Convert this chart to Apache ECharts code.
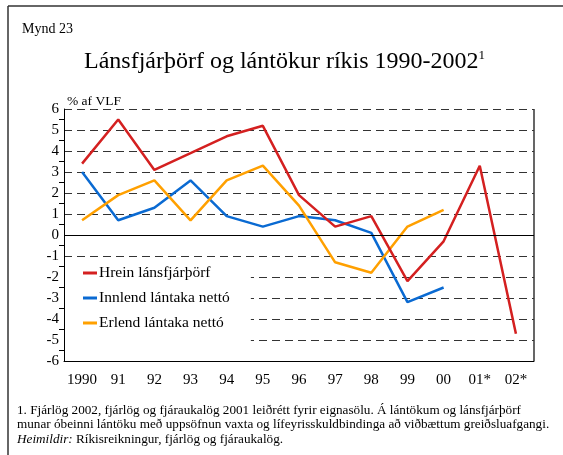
<!DOCTYPE html>
<html>
<head>
<meta charset="utf-8">
<script src="https://cdn.jsdelivr.net/npm/echarts@6/dist/echarts.min.js"></script>
<style>
  html, body { margin: 0; padding: 0; background: #fff; }
  #chart { width: 563px; height: 455px; }
</style>
</head>
<body>
<div id="chart"></div>
<script>
// gögn lesin af myndinni
var years = ['1990', '91', '92', '93', '94', '95', '96', '97', '98', '99', '00', '01*', '02*'];
var hrein = [3.4, 5.5, 3.1, 3.9, 4.7, 5.2, 1.9, 0.4, 0.9, -2.2, -0.3, 3.3, -4.7];
var innlend = [3.0, 0.7, 1.3, 2.6, 0.9, 0.4, 0.9, 0.7, 0.1, -3.2, -2.5, null, null];
var erlend = [0.7, 1.9, 2.6, 0.7, 2.6, 3.3, 1.4, -1.3, -1.8, 0.4, 1.2, null, null];
var seriesNames = ['Hrein lánsfjárþörf', 'Innlend lántaka nettó', 'Erlend lántaka nettó'];

var serif = '"Liberation Serif", "DejaVu Serif", serif';

var chart = echarts.init(document.getElementById('chart'));

var lineStyle = function(color){
	return {
		type: 'line',
		symbol: 'none',
		connectNulls: false,
		lineStyle: { color: color, width: 2.5 },
		itemStyle: { color: color }
	};
};

var option = {
	animation: false,
	backgroundColor: '#fff',
	textStyle: { fontFamily: serif, color: '#000' },
	title: [
		{ text: 'Mynd 23', left: 17, top: 17, textStyle: { fontFamily: serif, fontSize: 14, fontWeight: 'normal', color: '#000' } },
		{ text: 'Lánsfjárþörf og lántökur ríkis 1990-2002{s|1}', left: 79, top: 44,
			textStyle: { fontFamily: serif, fontSize: 24, fontWeight: 'normal', color: '#000',
				rich: { s: { fontFamily: serif, fontSize: 13, verticalAlign: 'top', padding: [0, 0, 12, 0] } } } },
		{ text: '% af VLF', left: 62, top: 89, textStyle: { fontFamily: serif, fontSize: 13.5, fontWeight: 'normal', color: '#000' } }
	],
	legend: {
		left: 65, top: 258,
		orient: 'vertical',
		itemGap: 9,
		itemWidth: 14, itemHeight: 3,
		icon: 'rect',
		backgroundColor: '#fff',
		padding: [7, 21, 18, 18],
		textStyle: { fontFamily: serif, fontSize: 15.5, color: '#000', padding: [0, 0, 0, -3] },
		data: seriesNames
	},
	grid: { left: 64, right: 29, top: 109, bottom: 94 },
	xAxis: {
		type: 'category',
		data: years,
		boundaryGap: true,
		axisLine: { onZero: false, lineStyle: { color: '#000', width: 1 } },
		axisTick: { alignWithLabel: true, length: 6, inside: false, lineStyle: { color: '#000' } },
		axisLabel: { interval: 0, fontFamily: serif, fontSize: 15, color: '#000', margin: 12 }
	},
	yAxis: {
		type: 'value',
		min: -6, max: 6, interval: 1,
		axisLine: { show: true, lineStyle: { color: '#000' } },
		axisTick: { show: false },
		minorTick: { show: true, splitNumber: 2, length: 5, lineStyle: { color: '#000' } },
		axisLabel: { fontFamily: serif, fontSize: 15, color: '#000', margin: 5 },
		splitLine: { show: true, lineStyle: { color: '#333', type: [8, 5], width: 1.2 } }
	},
	series: [
		Object.assign(lineStyle('#d42020'), { name: seriesNames[0], data: hrein, z: 3,
			markLine: {
				silent: true, symbol: 'none', label: { show: false },
				lineStyle: { color: '#000', type: 'solid', width: 1.2 },
				data: [{ yAxis: 0 }]
			}
		}),
		Object.assign(lineStyle('#0a6ad2'), { name: seriesNames[1], data: innlend, z: 2 }),
		Object.assign(lineStyle('#ffa000'), { name: seriesNames[2], data: erlend, z: 2 })
	],
	graphic: [
		{ type: 'line', shape: { x1: 8, y1: 6, x2: 563, y2: 6 }, style: { stroke: '#333', lineWidth: 1.5 } },
		{ type: 'line', shape: { x1: 8, y1: 6, x2: 8, y2: 455 }, style: { stroke: '#333', lineWidth: 1.5 } },
		{ type: 'line', shape: { x1: 534, y1: 109, x2: 534, y2: 361 }, style: { stroke: '#000', lineWidth: 1.2 } },
		{
			type: 'text', left: 17, top: 403,
			style: {
				text: '1. Fjárlög 2002, fjárlög og fjáraukalög 2001 leiðrétt fyrir eignasölu. Á lántökum og lánsfjárþörf\n' +
					'munar óbeinni lántöku með uppsöfnun vaxta og lífeyrisskuldbindinga að viðbættum greiðsluafgangi.\n' +
					'{i|Heimildir:} Ríkisreikningur, fjárlög og fjáraukalög.',
				font: '13.2px ' + serif,
				lineHeight: 14.5,
				fill: '#000',
				rich: { i: { fontStyle: 'italic', fontFamily: serif, fontSize: 13.2 } }
			}
		}
	]
};

chart.setOption(option);
</script>
</body>
</html>
